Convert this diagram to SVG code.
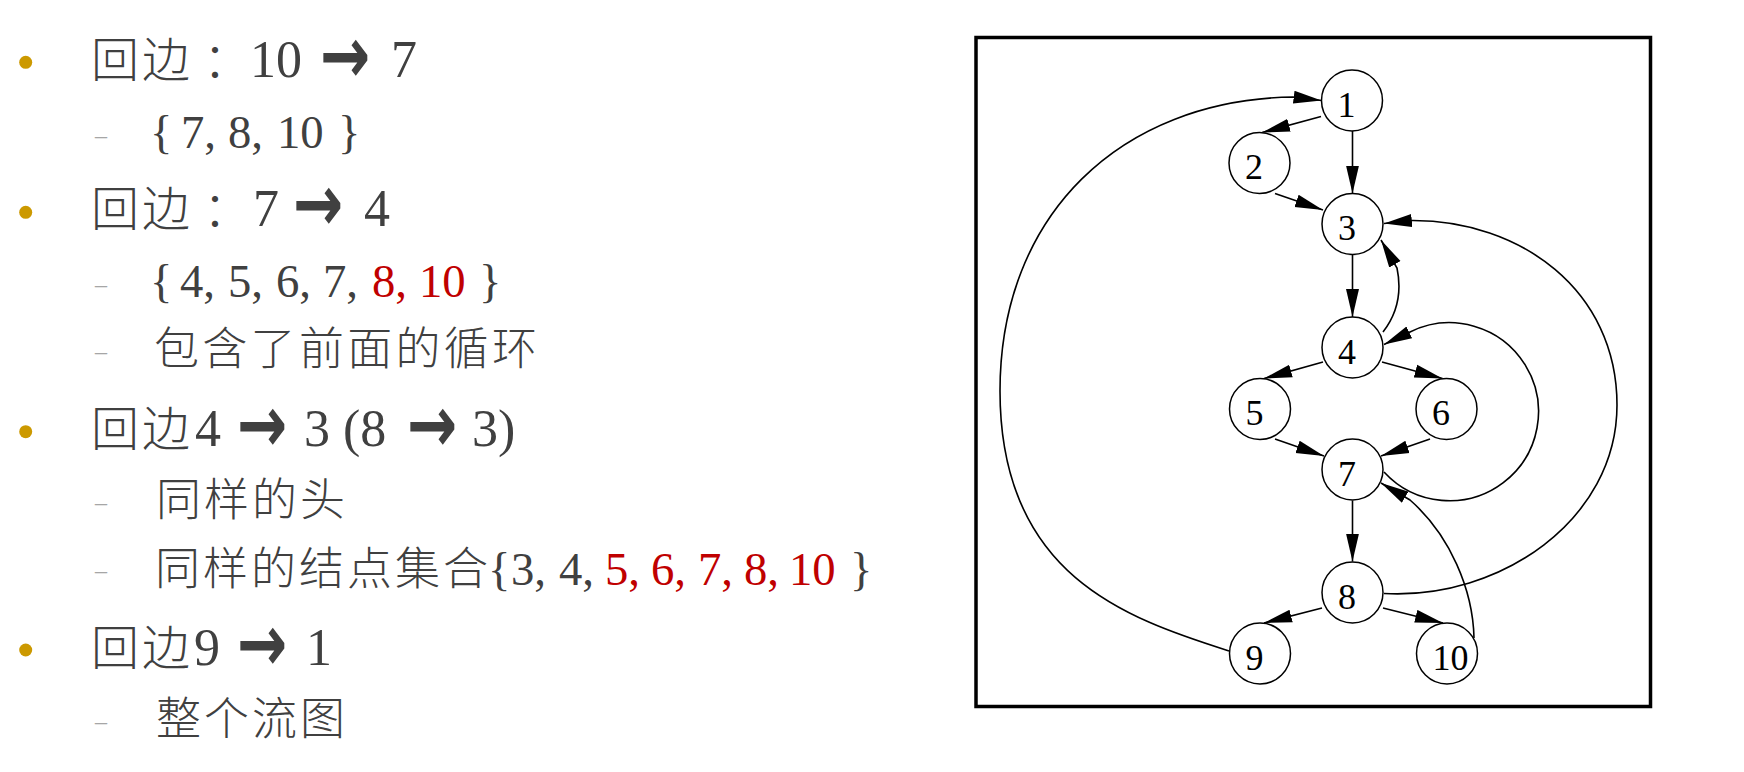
<svg xmlns="http://www.w3.org/2000/svg" width="1744" height="772" viewBox="0 0 1744 772">
<style>
.c1{font-family:"Noto Sans CJK SC",sans-serif;font-size:48px;font-weight:300;fill:#404040}
.l1{font-family:"Liberation Serif","Noto Sans CJK SC",serif;font-size:52px;fill:#404040}
.ar{font-family:"DejaVu Sans",sans-serif;font-weight:bold;font-size:80px;fill:#404040}
.c2{font-family:"Noto Sans CJK SC",sans-serif;font-size:45px;font-weight:300;fill:#404040}
.l2{font-family:"Liberation Serif","Noto Sans CJK SC",serif;font-size:46.7px;fill:#404040}
.red{fill:#C00000}
.dash{font-family:"Liberation Serif",serif;font-size:24px;fill:#A6A6A6}
.bul{fill:#CC9900}
.node circle{fill:#fff;stroke:#000;stroke-width:1.5}
.node text{font-family:"Liberation Serif",serif;font-size:36px;fill:#000}
.edge{fill:none;stroke:#000;stroke-width:1.6;marker-end:url(#ah)}
</style>
<defs>
<marker id="ah" viewBox="0 0 28 14" refX="28" refY="7" markerWidth="28" markerHeight="14" markerUnits="userSpaceOnUse" orient="auto">
<path d="M0,0.5 L28,7 L0,13.5 Z" fill="#000"/>
</marker>
</defs>
<rect width="1744" height="772" fill="#fff"/>

<g id="text">
<circle class="bul" cx="25.7" cy="62.3" r="6.5"/>
<text y="77"><tspan class="c1" x="91 142">回边</tspan><tspan class="c1" x="203">：</tspan><tspan class="l1" x="250">10</tspan><tspan class="l1" x="391">7</tspan></text>
<text class="ar" transform="translate(320,82.5) scale(0.75,1)">→</text>

<text class="dash" x="95" y="142.5">–</text>
<text y="147.5"><tspan class="l2" x="150">{</tspan><tspan class="l2" x="181">7,</tspan><tspan class="l2" x="228">8,</tspan><tspan class="l2" x="277">10</tspan><tspan class="l2" x="338">}</tspan></text>

<circle class="bul" cx="25.7" cy="212.3" r="6.5"/>
<text y="225.5"><tspan class="c1" x="91 142">回边</tspan><tspan class="c1" x="203">：</tspan><tspan class="l1" x="253">7</tspan><tspan class="l1" x="364">4</tspan></text>
<text class="ar" transform="translate(293,231) scale(0.75,1)">→</text>

<text class="dash" x="95" y="291.5">–</text>
<text y="296.7"><tspan class="l2" x="150">{</tspan><tspan class="l2" x="180">4,</tspan><tspan class="l2" x="228">5,</tspan><tspan class="l2" x="276">6,</tspan><tspan class="l2" x="323">7,</tspan><tspan class="l2 red" x="372">8,</tspan><tspan class="l2 red" x="419">10</tspan><tspan class="l2" x="479">}</tspan></text>

<text class="dash" x="95" y="359">–</text>
<text class="c2" y="365" x="154 202.3 250.6 298.9 347.2 395.5 443.8 492.1">包含了前面的循环</text>

<circle class="bul" cx="25.7" cy="431.7" r="6.5"/>
<text y="446"><tspan class="c1" x="91 142">回边</tspan><tspan class="l1" x="195">4</tspan><tspan class="l1" x="304">3</tspan><tspan class="l1" x="343">(8</tspan><tspan class="l1" x="472">3)</tspan></text>
<text class="ar" transform="translate(237,451.5) scale(0.75,1)">→</text>
<text class="ar" transform="translate(407,451.5) scale(0.75,1)">→</text>

<text class="dash" x="95" y="509.7">–</text>
<text class="c2" y="515.5" x="156 204 252 300">同样的头</text>

<text class="dash" x="95" y="578.4">–</text>
<text y="585"><tspan class="c2" x="155 203 251 299 347 395 443">同样的结点集合</tspan><tspan class="l2" x="488">{</tspan><tspan class="l2" x="511">3,</tspan><tspan class="l2" x="559">4,</tspan><tspan class="l2 red" x="605">5,</tspan><tspan class="l2 red" x="651">6,</tspan><tspan class="l2 red" x="698">7,</tspan><tspan class="l2 red" x="744">8,</tspan><tspan class="l2 red" x="789">10</tspan><tspan class="l2" x="850">}</tspan></text>

<circle class="bul" cx="25.7" cy="650" r="6.5"/>
<text y="665"><tspan class="c1" x="91 142">回边</tspan><tspan class="l1" x="194">9</tspan><tspan class="l1" x="306">1</tspan></text>
<text class="ar" transform="translate(237,670.5) scale(0.75,1)">→</text>

<text class="dash" x="95" y="729">–</text>
<text class="c2" y="734.5" x="156 204 252 300">整个流图</text>
</g>

<g id="frame">
<rect x="976" y="37.5" width="674.5" height="669" fill="none" stroke="#000" stroke-width="3.5"/>
</g>

<g id="connectors">
<path id="e1-2" class="edge" d="M1321,116.5 L1262,132.5"/>
<path id="e1-3" class="edge" d="M1352.5,131 L1352.5,193.5"/>
<path id="e2-3" class="edge" d="M1275,193.5 L1323,210"/>
<path id="e3-4" class="edge" d="M1352.5,254.5 L1352.5,317"/>
<path id="e4-3" class="edge" d="M1383,332 C1397,314 1402,292 1397,268 L1381,240"/>
<path id="e8-3" class="edge" d="M1384,593.5 C1500,600 1617,520 1617,405 C1617,290 1520,220 1412,220.5 L1384,223.5"/>
<path id="e7-4" class="edge" d="M1384,472 A89,89 0 1 0 1410,332 L1384,344.5"/>
<path id="e4-5" class="edge" d="M1323,362 L1264,378.5"/>
<path id="e4-6" class="edge" d="M1382,362 L1442.5,378.5"/>
<path id="e5-7" class="edge" d="M1275,439 L1324,456"/>
<path id="e6-7" class="edge" d="M1430,439 L1381,456"/>
<path id="e7-8" class="edge" d="M1352.5,500.5 L1352.5,561.5"/>
<path id="e8-9" class="edge" d="M1322,608 L1264,623"/>
<path id="e8-10" class="edge" d="M1383,608 L1443,623"/>
<path id="e10-7" class="edge" d="M1474,638 C1473,590 1450,535 1410,500 L1381,483"/>
<path id="e9-1" class="edge" d="M1229,651 C1125,618 1000,575 1000,391 C1000,215 1120,100 1293,97 L1321.5,100.5"/>
</g>

<g id="node1" class="node"><circle cx="1352" cy="100.5" r="30.5"/><text x="1337.5" y="116.5">1</text></g>
<g id="node2" class="node"><circle cx="1259.5" cy="163" r="30.5"/><text x="1245" y="179">2</text></g>
<g id="node3" class="node"><circle cx="1352.5" cy="224" r="30.5"/><text x="1338" y="240">3</text></g>
<g id="node4" class="node"><circle cx="1352.5" cy="347.5" r="30.5"/><text x="1338" y="363.5">4</text></g>
<g id="node5" class="node"><circle cx="1260" cy="409" r="30.5"/><text x="1245.5" y="425">5</text></g>
<g id="node6" class="node"><circle cx="1446.5" cy="409" r="30.5"/><text x="1432" y="425">6</text></g>
<g id="node7" class="node"><circle cx="1352.5" cy="469.5" r="30.5"/><text x="1338" y="485.5">7</text></g>
<g id="node8" class="node"><circle cx="1352.5" cy="592.5" r="30.5"/><text x="1338" y="608.5">8</text></g>
<g id="node9" class="node"><circle cx="1260" cy="653.5" r="30.5"/><text x="1245.5" y="669.5">9</text></g>
<g id="node10" class="node"><circle cx="1447" cy="653.5" r="30.5"/><text x="1432.5" y="669.5">10</text></g>
</svg>
